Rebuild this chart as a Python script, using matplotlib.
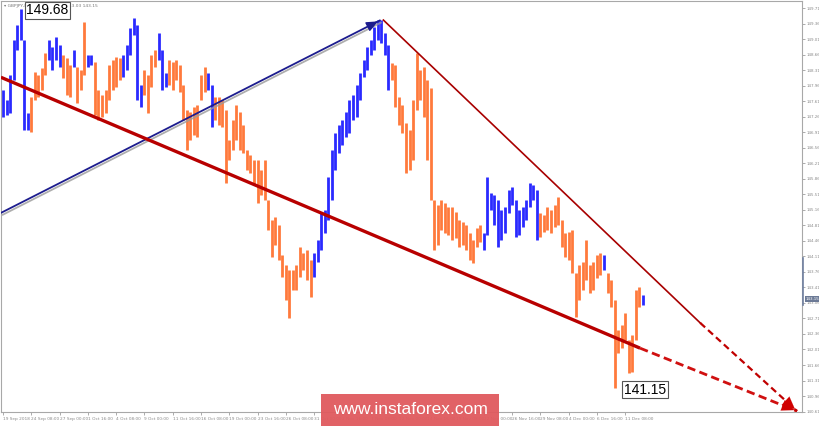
import matplotlib
matplotlib.use("Agg")
import matplotlib.pyplot as plt
import matplotlib.patheffects as pe
from matplotlib.patches import Rectangle

# ---- data (GBPJPY H4, one entry per pair of H4 bars) ----
bar_high = [147.86, 147.63, 148.20, 148.99, 149.33, 149.68, 148.99, 147.34, 147.70, 148.27,
            148.20, 148.36, 148.69, 148.99, 148.83, 149.06, 148.88, 148.65, 148.58, 148.42,
            148.76, 148.38, 148.31, 149.39, 148.65, 148.65, 148.49, 147.86, 147.75, 147.86,
            148.42, 148.54, 148.60, 148.58, 148.65, 148.88, 149.26, 149.48, 149.33, 147.97,
            148.31, 148.20, 148.65, 148.76, 149.15, 148.76, 148.24, 148.54, 148.49, 148.54,
            148.42, 147.97, 147.41, 147.36, 147.48, 147.52, 148.20, 148.38, 148.24, 147.97,
            147.70, 147.70, 147.63, 147.41, 146.73, 147.18, 147.52, 147.36, 147.07, 146.51,
            146.39, 146.28, 146.28, 146.06, 146.28, 145.38, 144.93, 145.00, 144.82, 144.14,
            143.91, 143.80, 143.80, 143.91, 144.32, 144.18, 144.25, 144.03, 144.18, 144.48,
            145.09, 145.15, 145.90, 146.51, 146.89, 147.07, 147.18, 147.36, 147.63, 147.75,
            147.97, 148.24, 148.54, 148.83, 148.99, 149.28, 149.44, 149.44, 149.15, 148.88,
            148.47, 148.42, 147.70, 147.52, 147.12, 146.96, 147.63, 148.69, 148.31, 148.38,
            148.09, 147.91, 145.38, 145.27, 145.38, 145.31, 145.22, 145.22, 145.11, 144.93,
            144.88, 144.82, 144.64, 144.48, 144.75, 144.82, 144.64, 145.90, 145.54, 145.49,
            145.38, 145.15, 145.22, 145.61, 145.67, 145.38, 145.15, 145.22, 145.38, 145.76,
            145.72, 145.61, 145.09, 145.04, 145.22, 145.15, 145.27, 145.45, 144.93, 144.64,
            144.66, 144.70, 143.73, 143.91, 143.98, 144.48, 143.91, 143.98, 144.14, 144.18,
            144.14, 143.73, 143.58, 143.12, 142.45, 142.56, 142.83, 142.22, 142.34, 143.35,
            143.42, 143.24]
bar_low = [147.25, 147.30, 147.34, 148.09, 148.76, 148.99, 146.96, 146.96, 146.91, 147.63,
           147.70, 147.86, 148.20, 148.54, 148.31, 148.54, 148.38, 148.13, 147.75, 147.70,
           148.38, 147.57, 147.86, 148.20, 148.38, 148.42, 147.30, 147.18, 147.25, 147.34,
           147.63, 147.86, 147.93, 148.09, 148.15, 148.31, 148.65, 149.10, 147.63, 147.48,
           147.75, 147.34, 147.93, 148.38, 148.54, 147.86, 147.93, 147.97, 147.86, 148.09,
           147.82, 147.18, 146.51, 146.73, 146.85, 146.80, 147.63, 147.82, 147.86, 147.03,
           147.18, 147.07, 147.03, 145.76, 146.28, 146.51, 146.73, 146.51, 146.44, 146.06,
           145.99, 145.72, 145.31, 145.49, 145.38, 144.70, 144.09, 144.37, 144.03, 143.64,
           143.12, 142.72, 143.35, 143.35, 143.64, 143.80, 143.58, 143.19, 143.64, 143.98,
           144.25, 144.64, 144.93, 145.38, 146.06, 146.44, 146.62, 146.80, 146.89, 147.18,
           147.25, 147.63, 148.15, 148.31, 148.65, 148.76, 148.99, 148.92, 148.65, 147.86,
           148.09, 147.48, 147.07, 146.89, 145.99, 146.06, 146.28, 147.41, 147.63, 147.25,
           146.28, 145.38, 144.25, 144.37, 144.70, 144.64, 144.59, 144.48, 144.52, 144.32,
           144.37, 144.25, 144.03, 143.96, 144.32, 144.43, 144.25, 144.59, 145.15, 144.82,
           144.32, 144.48, 144.64, 145.09, 145.27, 144.55, 144.59, 144.77, 144.93, 145.22,
           145.38, 144.48, 144.55, 144.66, 144.70, 144.64, 144.77, 144.82, 144.32, 144.09,
           144.03, 143.73, 142.74, 143.12, 143.35, 143.58, 143.28, 143.35, 143.62, 143.69,
           143.80, 143.28, 142.97, 141.15, 141.93, 142.04, 142.22, 141.48, 141.50, 142.22,
           142.97, 143.01]
# wave direction of each bar: B = rising (blue), O = falling (orange)
bar_wave = ("BBBBBBBB" "OOOOO" "BBBB" "OOO" "B" "OOO" "BB" "OOOOOOOO" "BBBBBB" "OOOO"
            "BBB" "OOOOOOOOOOO" "BB" "OOOOOOOOOOOOOOOOOOOOOOOOOOOO"
            "BBBBBBBBBBBBBBBBBBBBBB" "OOOOOOOOOOOOOOOOOOOOOOOOOO" "BBBBBBBBBBBBBBBB"
            "OOOOOOOOOOOOOOOOOO" "B" "OOOOOOOOOO" "B")

date_tick_pos = [0, 8, 16, 24, 32, 40, 48, 56, 64, 72, 80, 88, 96, 104, 112, 120, 128,
                 136, 144, 152, 160, 168, 176]
date_labels = ["19 Sep 2018", "24 Sep 08:00", "27 Sep 00:00", "1 Oct 16:00", "4 Oct 08:00",
               "9 Oct 00:00", "11 Oct 16:00", "16 Oct 08:00", "19 Oct 00:00", "23 Oct 16:00",
               "26 Oct 08:00", "31 Oct 00:00", "2 Nov 16:00", "7 Nov 08:00", "12 Nov 00:00",
               "14 Nov 16:00", "19 Nov 08:00", "22 Nov 00:00", "26 Nov 16:00", "29 Nov 08:00",
               "4 Dec 00:00", "6 Dec 16:00", "11 Dec 08:00"]
price_ticks = [149.71, 149.36, 149.01, 148.66, 148.31, 147.96, 147.61, 147.26, 146.91,
               146.56, 146.21, 145.86, 145.51, 145.16, 144.81, 144.46, 144.11, 143.76,
               143.41, 143.06, 142.71, 142.36, 142.01, 141.66, 141.31, 140.96, 140.61]

# analyst's trend lines (bar index, price)
blue_line_x = [-0.6, 106.8]
blue_line_y = [145.09, 149.44]
lower_line_x = [-0.6, 180.2, 224.6]
lower_line_y = [148.15, 142.04, 140.62]
upper_line_x = [107.6, 197.2, 224.6]
upper_line_y = [149.44, 142.61, 140.62]

high_label = "149.68"
low_label = "141.15"
last_price = 143.15

# ---- figure ----
W, H = 820, 426
fig = plt.figure(figsize=(W / 100, H / 100), dpi=100)
ax = fig.add_axes([1 / W, (H - 412) / H, 801 / W, 411 / H])
YMIN, YMAX = 140.60, 149.87
ax.set_xlim(-0.56, 226.0)
ax.set_ylim(YMIN, YMAX)
ax.set_facecolor("white")

BLUE = "#2a2aff"
ORANGE = "#ff7a3c"
cols = [BLUE if w == "B" else ORANGE for w in bar_wave]
xs = list(range(len(bar_high)))
ax.vlines(xs, bar_low, bar_high, colors=cols, linewidth=2.0, zorder=2)

shadow = [pe.SimpleLineShadow(offset=(0.8, -1.6), shadow_color="#9a9a9a", alpha=0.8), pe.Normal()]
ax.plot(blue_line_x, blue_line_y, color="#1c1c8e", lw=1.3, zorder=4, path_effects=shadow,
        solid_capstyle="butt")
ax.annotate("", xy=(blue_line_x[1], blue_line_y[1]), xytext=(blue_line_x[1] - 3, blue_line_y[1] - 0.123),
            arrowprops=dict(arrowstyle="-|>,head_length=0.7,head_width=0.3", color="#1c1c8e", lw=1.0),
            zorder=5)

RED = "#b80000"
ax.plot(lower_line_x[:2], lower_line_y[:2], color=RED, lw=2.4, zorder=4, solid_capstyle="butt")
ax.plot(lower_line_x[1:], lower_line_y[1:], color="#d01010", lw=2.0, ls=(0, (3, 1.6)), zorder=4)
ax.plot(upper_line_x[:2], upper_line_y[:2], color="#a80000", lw=1.2, zorder=4)
ax.plot(upper_line_x[1:], upper_line_y[1:], color="#c00000", lw=1.6, ls=(0, (3, 1.8)), zorder=4)
for lx, ly in ((lower_line_x, lower_line_y), (upper_line_x, upper_line_y)):
    dx = lx[2] - lx[1]
    dy = ly[2] - ly[1]
    ax.annotate("", xy=(lx[2], ly[2]), xytext=(lx[2] - dx * 0.12, ly[2] - dy * 0.12),
                arrowprops=dict(arrowstyle="-|>,head_length=0.9,head_width=0.4", color="#d00000", lw=0.1),
                zorder=5)

# price labels
ax.text(6.6, 149.66, high_label, fontsize=10, family="Liberation Sans", va="center", ha="left",
        zorder=6, bbox=dict(boxstyle="square,pad=0.12", fc="white", ec="#555555", lw=0.8))
ax.text(175.6, 141.10, low_label, fontsize=10, family="Liberation Sans", va="center", ha="left",
        zorder=6, bbox=dict(boxstyle="square,pad=0.12", fc="white", ec="#555555", lw=0.8))

ax.text(0.004, 0.992, "\u25be GBPJPY,H4  143.27 143.34 143.03 143.15", transform=ax.transAxes,
        fontsize=3.2, color="#777777", va="top", ha="left", zorder=1)

# axes styling
for s in ax.spines.values():
    s.set_color("#a8a8a8")
    s.set_linewidth(0.8)
ax.yaxis.tick_right()
ax.set_yticks(price_ticks)
ax.set_yticklabels([f"{v:.2f}" for v in price_ticks])
ax.tick_params(axis="y", labelsize=2.9, colors="#8a8a8a", length=2, width=0.5, pad=1.0)
ax.set_xticks(date_tick_pos)
ax.set_xticklabels(date_labels)
ax.tick_params(axis="x", labelsize=3.1, colors="#8a8a8a", length=2, width=0.5, pad=1.5)
for lab in ax.get_xticklabels():
    lab.set_horizontalalignment("left")

# last price marker on the price scale
ax.text(1.004, (last_price - YMIN) / (YMAX - YMIN), f"{last_price:.2f}", transform=ax.transAxes,
        fontsize=2.9, color="white", va="center", ha="left", zorder=7, clip_on=False,
        bbox=dict(boxstyle="square,pad=0.15", fc="#6c7a96", ec="none"))
ax.plot([1.0015, 1.0015], [(143.01 - YMIN) / (YMAX - YMIN), (144.07 - YMIN) / (YMAX - YMIN)],
        transform=ax.transAxes, color="#7080a0", lw=1.2, clip_on=False, zorder=6)

# watermark
fig.patches.append(Rectangle((321 / W, 0), 178 / W, 32 / H, transform=fig.transFigure,
                             facecolor="#e05a5e", edgecolor="none", alpha=0.95, zorder=10))
fig.text(410 / W, (H - 410) / H, "www.instaforex.com", color="white", fontsize=12.5,
         family="Liberation Sans", ha="center", va="center", zorder=11)

fig.savefig("out.png", dpi=100, facecolor="white")
